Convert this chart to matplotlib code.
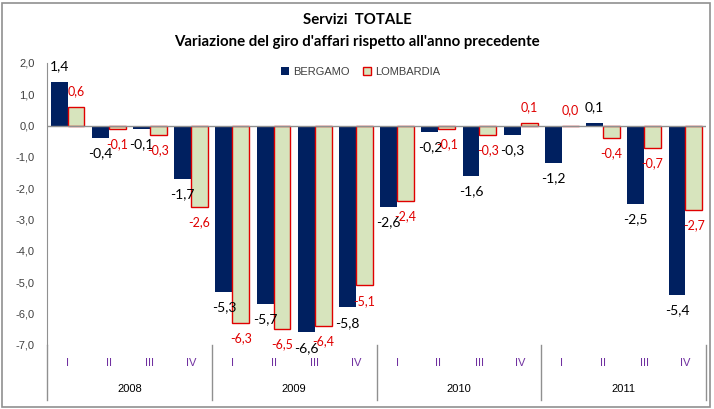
import matplotlib.pyplot as plt
import matplotlib.patches as mpatches
import numpy as np

quarters = ['I', 'II', 'III', 'IV'] * 4
years = ['2008', '2009', '2010', '2011']
bergamo = [1.4, -0.4, -0.1, -1.7, -5.3, -5.7, -6.6, -5.8,
           -2.6, -0.2, -1.6, -0.3, -1.2, 0.1, -2.5, -5.4]
lombardia = [0.6, -0.1, -0.3, -2.6, -6.3, -6.5, -6.4, -5.1,
             -2.4, -0.1, -0.3, 0.1, 0.0, -0.4, -0.7, -2.7]
yticks = [2, 1, 0, -1, -2, -3, -4, -5, -6, -7]

navy = '#002060'
green = '#D7E4BD'
red = '#E00000'
grey = '#404040'


def fmt(v):
    return f"{v:.1f}".replace('.', ',')


fig = plt.figure(figsize=(7.14, 4.09), dpi=100)
ax = fig.add_axes([47 / 714, 1 - 345 / 409, 659 / 714, 282 / 409])

x = np.arange(len(bergamo))
w = 0.41
ax.bar(x - w / 2, bergamo, w, color=navy, label='BERGAMO')
ax.bar(x + w / 2, lombardia, w, color=green, edgecolor=red, linewidth=1,
       label='LOMBARDIA')

for xi, v in zip(x, bergamo):
    off = 11 if v >= 0 else -11
    ax.annotate(fmt(v), (xi - w / 2, v), xytext=(0, off), textcoords='offset points',
                ha='center', va='center', fontsize=10, color='black',
                family='Lato')
for xi, v in zip(x, lombardia):
    off = 11 if v >= 0 else -11
    ax.annotate(fmt(v), (xi + w / 2, v), xytext=(0, off), textcoords='offset points',
                ha='center', va='center', fontsize=9, color=red,
                family='Lato')

ax.set_xlim(-0.5, 15.5)
ax.set_ylim(-7, 2)
ax.set_yticks(yticks)
ax.set_yticklabels([fmt(t) for t in yticks], fontsize=8, color=grey,
                   family='Liberation Sans')
ax.tick_params(axis='y', length=0, pad=9)
ax.set_xticks([])
for s in ['top', 'right', 'bottom']:
    ax.spines[s].set_visible(False)
ax.spines['left'].set_color('#909090')
ax.axhline(0, color='#909090', linewidth=1)

# category axis below the plot
tr = ax.get_xaxis_transform()
for sx in [-0.5, 3.5, 7.5, 11.5, 15.5]:
    ax.plot([sx, sx], [0, -0.195], color='#909090', linewidth=1,
            transform=tr, clip_on=False)
for xi, q in zip(x, quarters):
    ax.text(xi, -0.064, q, transform=tr, ha='center', va='center',
            fontsize=8, color='#7030A0', family='Liberation Sans')
for i, yr in enumerate(years):
    ax.text(4 * i + 1.5, -0.156, yr, transform=tr, ha='center', va='center',
            fontsize=8, color='black', family='Liberation Sans')

fig.text(0.5, 1 - 20 / 409, 'Servizi  TOTALE', ha='center', va='center',
         fontsize=10.8, fontweight='bold', family='Lato')
fig.text(0.5, 1 - 42 / 409, "Variazione del giro d'affari rispetto all'anno precedente",
         ha='center', va='center', fontsize=10.8, fontweight='bold', family='Lato')

handles = [mpatches.Patch(facecolor=navy, label='BERGAMO'),
           mpatches.Patch(facecolor=green, edgecolor=red, linewidth=1, label='LOMBARDIA')]
leg = fig.legend(handles=handles, loc='center', bbox_to_anchor=(0.505, 1 - 72 / 409),
                 ncol=2, frameon=False, prop={'family': 'Liberation Sans', 'size': 8},
                 handlelength=0.7, handleheight=0.7, handletextpad=0.4, columnspacing=1.2)
for t in leg.get_texts():
    t.set_color(grey)

fig.patches.append(mpatches.Rectangle((2 / 714, 2 / 409), 708 / 714, 404 / 409,
                                      transform=fig.transFigure, fill=False,
                                      edgecolor='#909090', linewidth=1.2))

fig.savefig('out.png', dpi=100)
